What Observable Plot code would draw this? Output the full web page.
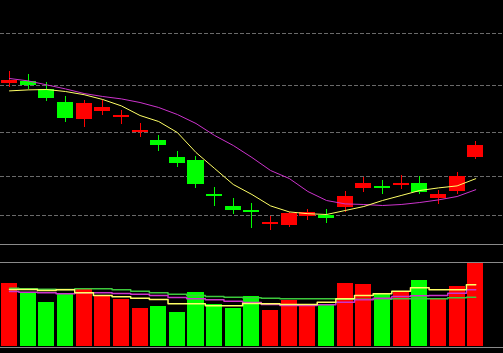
<!DOCTYPE html>
<html><head><meta charset="utf-8">
<script src="https://cdn.jsdelivr.net/npm/d3@7"></script>
<script src="https://cdn.jsdelivr.net/npm/@observablehq/plot@0.6"></script>
<style>
html,body{margin:0;padding:0;background:#000;}
#wrap{width:503px;height:353px;background:#000;overflow:hidden;}
#vol{border-top:1px solid #8a8a8a;border-bottom:1px solid #8a8a8a;height:102px;}
#wrap svg{display:block;}
</style></head><body>
<div id="wrap"><div id="main"></div><div id="vol"></div></div>
<script>
const opens  = [25.87,25.95,25.54,24.90,24.07,24.47,24.15,23.42,23.00,22.15,22.00,20.30,19.70,19.49,18.79,18.75,19.19,19.24,19.67,20.62,20.70,20.74,20.87,20.12,20.47,22.17];
const closes = [26.02,25.77,25.12,24.12,24.85,24.67,24.23,23.50,22.75,21.87,20.82,20.22,19.52,19.41,18.92,19.34,19.40,19.12,20.22,20.87,20.62,20.87,20.42,20.30,21.20,22.75];
const highs  = [26.47,26.29,25.90,25.19,25.00,25.02,24.49,23.84,23.25,22.45,22.22,20.65,20.09,19.84,19.20,19.42,19.55,19.55,20.45,21.14,21.00,21.25,21.20,20.50,21.42,22.95];
const lows   = [25.63,25.55,24.97,23.89,23.67,24.25,23.79,23.17,22.47,21.67,20.62,19.72,19.32,18.60,18.50,18.67,19.00,18.84,19.42,20.39,20.29,20.54,20.29,19.80,20.30,22.04];
const ma5    = [25.48,25.53,25.55,25.45,25.29,25.05,24.73,24.25,23.95,23.40,22.40,21.60,20.80,20.30,19.73,19.43,19.34,19.30,19.50,19.70,20.00,20.25,20.50,20.63,20.73,21.09];
const ma10   = [26.10,25.98,25.78,25.58,25.35,25.20,25.08,24.90,24.65,24.30,23.85,23.25,22.75,22.15,21.50,21.10,20.45,20.00,19.83,19.80,19.75,19.80,19.90,20.03,20.20,20.54];
const volumes= [6300,5430,4400,5200,5770,5000,4700,3800,4000,3400,5400,4170,3800,5000,3600,4570,4200,4200,6300,6200,5200,5400,6600,4770,6000,8330];
const volMa5 = [5700,5700,5600,5670,5370,5100,4970,4830,4700,4270,4270,4070,4070,4300,4270,4200,4200,4430,4770,5100,5270,5530,5870,5670,5670,6170];
const volMa10= [5500,5430,5370,5270,5370,5370,5300,5230,5100,4900,4770,4670,4530,4400,4200,4100,4100,4170,4430,4670,4830,5000,5070,5100,5330,5670];
const volMa20= [5830,5770,5730,5700,5770,5770,5670,5530,5370,5230,5100,5000,4930,4870,4830,4770,4770,4770,4730,4730,4730,4770,4770,4770,4870,4930];
const gridPrices = [28.35,25.75,23.40,21.20,19.25];
const priceDomain = [17.8, 30];
const volTop = 8400;

const UP = "#ff0000", DOWN = "#00ff00";
const rows = opens.map((o, i) => ({
  i, o, c: closes[i], h: highs[i], l: lows[i], v: volumes[i],
  ma5: ma5[i], ma10: ma10[i], vm5: volMa5[i], vm10: volMa10[i], vm20: volMa20[i],
  col: closes[i] >= o ? UP : DOWN
}));
const HW = 0.43;
const xScale = {domain: [-0.4826, 26.488], range: [0, 503], axis: null};

const main = Plot.plot({
  width: 503, height: 244,
  marginTop: 0, marginBottom: 0, marginLeft: 0, marginRight: 0,
  style: {background: "black"},
  x: xScale,
  y: {domain: priceDomain, range: [244, 0], axis: null},
  color: {type: "identity"},
  marks: [
    Plot.ruleY(gridPrices, {stroke: "#6a6a6a", strokeDasharray: "4,2", shapeRendering: "crispEdges"}),
    Plot.ruleX(rows, {x: "i", y1: "l", y2: "h", stroke: "col", shapeRendering: "crispEdges"}),
    Plot.rect(rows, {x1: d => d.i - HW, x2: d => d.i + HW, y1: "o", y2: "c", fill: "col", shapeRendering: "crispEdges"}),
    Plot.line(rows, {x: "i", y: "ma10", stroke: "#cc33cc", strokeWidth: 1}),
    Plot.line(rows, {x: "i", y: "ma5", stroke: "#ffff66", strokeWidth: 1})
  ]
});
document.getElementById("main").appendChild(main);

const vol = Plot.plot({
  width: 503, height: 102,
  marginTop: 0, marginBottom: 0, marginLeft: 0, marginRight: 0,
  style: {background: "black"},
  x: xScale,
  y: {domain: [0, volTop], range: [101, 17], axis: null},
  color: {type: "identity"},
  marks: [
    Plot.ruleY([volTop], {stroke: "#8a8a8a", shapeRendering: "crispEdges"}),
    Plot.rect(rows, {x1: d => d.i - HW, x2: d => d.i + HW, y1: 0, y2: "v", fill: "col", shapeRendering: "crispEdges"}),
    Plot.line(rows, {x: "i", y: "vm20", stroke: "#3cc83c", curve: "step"}),
    Plot.line(rows, {x: "i", y: "vm10", stroke: "#cc33cc", curve: "step"}),
    Plot.line(rows, {x: "i", y: "vm5", stroke: "#ffff66", curve: "step"})
  ]
});
document.getElementById("vol").appendChild(vol);
</script>
</body></html>
